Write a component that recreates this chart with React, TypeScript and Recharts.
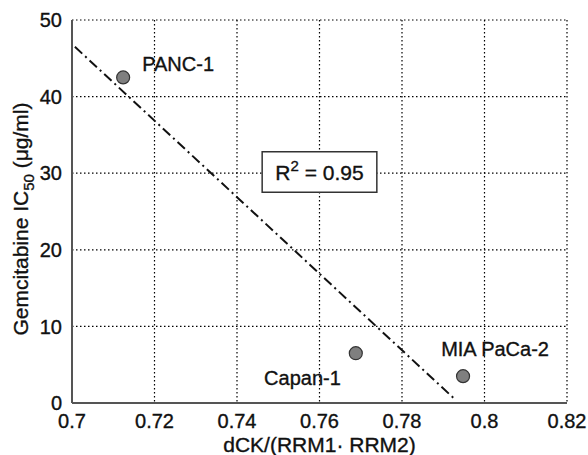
import React from "react";
import {
  ScatterChart,
  Scatter,
  XAxis,
  YAxis,
  CartesianGrid,
  ReferenceArea,
  LabelList,
} from "recharts";

// cell lines: dCK/(RRM1·RRM2) vs gemcitabine IC50
const cellLines = ["PANC-1", "Capan-1", "MIA PaCa-2"];
const ratioValues = [0.7124, 0.7688, 0.7948];
const ic50Values = [42.5, 6.5, 3.5];

// fitted regression line end points
const fitX = [0.7007, 0.793];
const fitY = [46.5, 0.4];

const xTicks = [0.7, 0.72, 0.74, 0.76, 0.78, 0.8, 0.82];
const yTicks = [0, 10, 20, 30, 40, 50];

const points = cellLines.map((name, i) => ({ name, x: ratioValues[i], y: ic50Values[i] }));
const fitLine = fitX.map((x, i) => ({ x, y: fitY[i] }));

const FONT = '"Liberation Sans", Arial, Helvetica, sans-serif';
const INK = "#111";
const TXT = { fontFamily: FONT, fill: INK, stroke: INK, strokeWidth: 0.35 };

// label placement around each marker (dx, dy, anchor)
const labelPos: Record<string, [number, number, string]> = {
  "PANC-1": [19, -6, "start"],
  "Capan-1": [-15, 32, "end"],
  "MIA PaCa-2": [32, -20, "middle"],
};

const PointLabel = (props: any) => {
  const { x, y, width, height, value } = props;
  const cx = x + (width || 0) / 2;
  const cy = y + (height || 0) / 2;
  const [dx, dy, anchor] = labelPos[value] || [0, 0, "middle"];
  return (
    <text x={cx + dx} y={cy + dy} textAnchor={anchor} fontSize={20} {...TXT}>
      {value}
    </text>
  );
};

const Dot = (props: any) => {
  const { cx, cy } = props;
  return <circle cx={cx} cy={cy} r={6.5} fill="#7f7f7f" stroke="#333" strokeWidth={1.2} />;
};

const R2Label = (props: any) => {
  const { viewBox } = props;
  const cx = viewBox.x + viewBox.width / 2;
  const cy = viewBox.y + viewBox.height / 2;
  return (
    <text x={cx} y={cy + 8} textAnchor="middle" fontSize={21} {...TXT}>
      R<tspan dy={-9} fontSize={15}>2</tspan>
      <tspan dy={9}> = 0.95</tspan>
    </text>
  );
};

const YLabel = () => (
  <text transform="translate(28, 219) rotate(-90)" textAnchor="middle" fontSize={21} {...TXT}>
    Gemcitabine IC<tspan dy={6} fontSize={15}>50</tspan>
    <tspan dy={-6}> (μg/ml)</tspan>
  </text>
);

export default function App() {
  return (
    <div style={{ position: "absolute", left: 0, top: 0, background: "#fff" }}>
      <ScatterChart width={588} height={455} margin={{ top: 20, right: 21, bottom: 0, left: 0 }}>
        <CartesianGrid stroke="#000" strokeDasharray="1.5 2.5" strokeWidth={1.2} />
        <XAxis
          type="number"
          dataKey="x"
          domain={[0.7, 0.82]}
          ticks={xTicks}
          allowDataOverflow
          height={52}
          tickLine={false}
          tickMargin={5}
          stroke="#555"
          strokeWidth={2}
          tick={{ fontSize: 20, ...TXT }}
          tickFormatter={(v) => `${Number(v.toFixed(2))}`}
          label={{
            value: "dCK/(RRM1· RRM2)",
            position: "insideBottom",
            offset: 3,
            fontSize: 21,
            ...TXT,
          }}
        />
        <YAxis
          type="number"
          dataKey="y"
          domain={[0, 50]}
          ticks={yTicks}
          allowDataOverflow
          width={72}
          tickLine={false}
          tickMargin={4}
          stroke="#555"
          strokeWidth={2}
          tick={{ fontSize: 20, ...TXT }}
          label={<YLabel />}
        />
        <ReferenceArea
          x1={0.7461}
          x2={0.7739}
          y1={27.5}
          y2={32.8}
          fill="#fff"
          fillOpacity={1}
          stroke="#333"
          strokeWidth={1.5}
          label={<R2Label />}
        />
        <Scatter
          data={fitLine}
          line={{ stroke: "#111", strokeWidth: 2, strokeDasharray: "10 4 2 4" }}
          shape={() => <g />}
          isAnimationActive={false}
        />
        <Scatter data={points} shape={<Dot />} isAnimationActive={false}>
          <LabelList dataKey="name" content={<PointLabel />} />
        </Scatter>
      </ScatterChart>
    </div>
  );
}
